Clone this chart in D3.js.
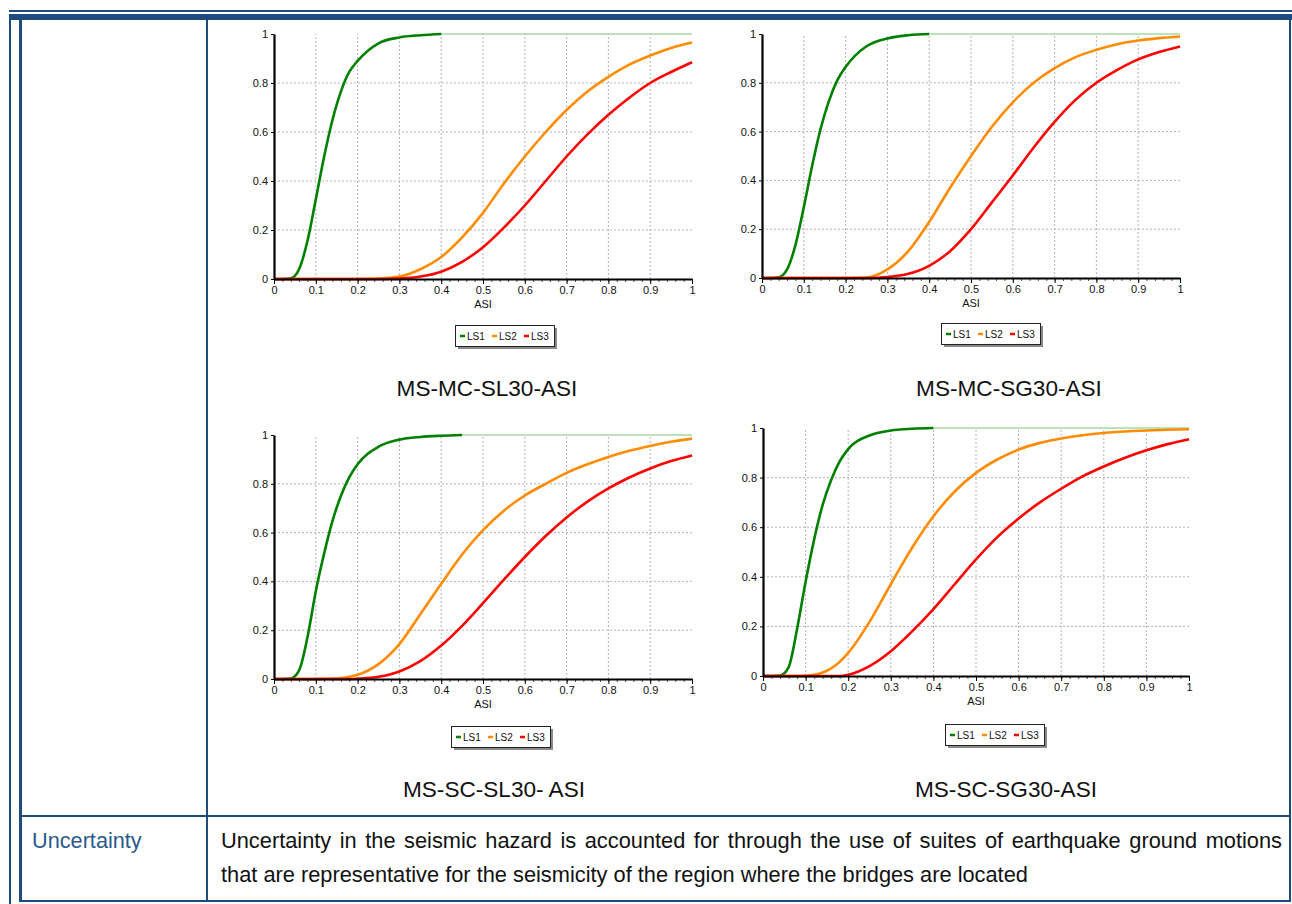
<!DOCTYPE html>
<html>
<head>
<meta charset="utf-8">
<script src="https://cdn.jsdelivr.net/npm/d3@7"></script>
<style>
  body { margin: 0; background: #fff; }
  svg { display: block; }
  text { font-family: "Liberation Sans", Arial, sans-serif; }
</style>
</head>
<body>
<svg id="page" width="1292" height="904"></svg>
<script>
// ASI sample points shared by all fragility curves
const asi = [0, 0.02, 0.04, 0.06, 0.08, 0.10, 0.12, 0.14, 0.16, 0.18, 0.20,
             0.25, 0.30, 0.35, 0.40, 0.45, 0.50, 0.55, 0.60, 0.65, 0.70,
             0.75, 0.80, 0.85, 0.90, 0.95, 1.00];

// Probability of exceedance per limit state (LS1, LS2, LS3)
const mcSl30Ls1 = [0, 0, 0.003, 0.04, 0.155, 0.325, 0.50, 0.65, 0.765, 0.845, 0.89, 0.962, 0.986, 0.995, 1, 1, 1, 1, 1, 1, 1, 1, 1, 1, 1, 1, 1];
const mcSl30Ls2 = [0, 0, 0, 0, 0, 0, 0, 0, 0, 0, 0, 0.002, 0.01, 0.04, 0.09, 0.17, 0.27, 0.39, 0.50, 0.60, 0.69, 0.765, 0.825, 0.875, 0.912, 0.943, 0.965];
const mcSl30Ls3 = [0, 0, 0, 0, 0, 0, 0, 0, 0, 0, 0, 0, 0.002, 0.01, 0.03, 0.07, 0.13, 0.21, 0.30, 0.40, 0.50, 0.59, 0.67, 0.74, 0.80, 0.845, 0.885];

const mcSg30Ls1 = [0, 0, 0.003, 0.035, 0.135, 0.29, 0.46, 0.61, 0.725, 0.81, 0.865, 0.95, 0.982, 0.995, 1, 1, 1, 1, 1, 1, 1, 1, 1, 1, 1, 1, 1];
const mcSg30Ls2 = [0, 0, 0, 0, 0, 0, 0, 0, 0, 0, 0, 0.002, 0.035, 0.11, 0.23, 0.37, 0.50, 0.62, 0.72, 0.80, 0.86, 0.905, 0.935, 0.958, 0.973, 0.983, 0.99];
const mcSg30Ls3 = [0, 0, 0, 0, 0, 0, 0, 0, 0, 0, 0, 0, 0.004, 0.017, 0.05, 0.11, 0.20, 0.31, 0.42, 0.535, 0.64, 0.73, 0.80, 0.853, 0.896, 0.926, 0.949];

const scSl30Ls1 = [0, 0, 0.002, 0.035, 0.17, 0.36, 0.515, 0.648, 0.75, 0.826, 0.88, 0.952, 0.981, 0.992, 0.997, 1, 1, 1, 1, 1, 1, 1, 1, 1, 1, 1, 1];
const scSl30Ls2 = [0, 0, 0, 0, 0, 0, 0.001, 0.002, 0.004, 0.009, 0.017, 0.061, 0.143, 0.265, 0.39, 0.51, 0.61, 0.69, 0.752, 0.80, 0.845, 0.88, 0.91, 0.935, 0.955, 0.972, 0.985];
const scSl30Ls3 = [0, 0, 0, 0, 0, 0, 0, 0, 0, 0, 0.0015, 0.009, 0.031, 0.073, 0.137, 0.218, 0.311, 0.407, 0.50, 0.586, 0.662, 0.727, 0.781, 0.826, 0.863, 0.893, 0.916];

const scSg30Ls1 = [0, 0, 0.002, 0.035, 0.19, 0.38, 0.55, 0.69, 0.79, 0.865, 0.915, 0.97, 0.99, 0.997, 1, 1, 1, 1, 1, 1, 1, 1, 1, 1, 1, 1, 1];
const scSg30Ls2 = [0, 0, 0, 0, 0, 0.0013, 0.005, 0.014, 0.031, 0.057, 0.093, 0.218, 0.37, 0.517, 0.644, 0.744, 0.819, 0.873, 0.913, 0.94, 0.958, 0.971, 0.98, 0.986, 0.99, 0.993, 0.995];
const scSg30Ls3 = [0, 0, 0, 0, 0, 0, 0, 0, 0, 0, 0.005, 0.04, 0.10, 0.18, 0.27, 0.37, 0.47, 0.56, 0.635, 0.70, 0.755, 0.805, 0.845, 0.88, 0.91, 0.935, 0.955];

// Axis ticks, legend and captions
const xTicks = [0, 0.1, 0.2, 0.3, 0.4, 0.5, 0.6, 0.7, 0.8, 0.9, 1];
const yTicks = [0, 0.2, 0.4, 0.6, 0.8, 1];
const limitStates = ["LS1", "LS2", "LS3"];
const lsColors = ["#008000", "#ff8c00", "#ff0000"];
const chartTitles = ["MS-MC-SL30-ASI", "MS-MC-SG30-ASI", "MS-SC-SL30- ASI", "MS-SC-SG30-ASI"];
const rowLabel = "Uncertainty";
const rowText = [
  "Uncertainty in the seismic hazard is accounted for through the use of suites of earthquake ground motions",
  "that are representative for the seismicity of the region where the bridges are located"
];

const svg = d3.select("#page");
const border = "#1f4a7e";

// ---- table frame ----
const frame = svg.append("g");
function rect(x, y, w, h) { frame.append("rect").attr("x", x).attr("y", y).attr("width", w).attr("height", h).attr("fill", border); }
rect(9, 10, 1283, 2);      // thin top rule
rect(9, 14, 1283, 6);      // thick top rule
rect(9, 14, 2, 890);       // outer left rule
rect(19, 20, 3, 882);      // inner left rule
rect(206, 20, 2, 882);     // column divider
rect(1289, 20, 2, 882);    // right rule
rect(22, 815, 1268, 2);    // row divider
rect(19, 900, 1272, 2);    // bottom rule

// ---- fragility charts ----
const layout = [
  { x0: 274, x1: 692, yTop: 34, yBot: 279, legX: 455, legY: 325, tX: 487, tY: 396 },
  { x0: 762, x1: 1180, yTop: 34, yBot: 278, legX: 941, legY: 323, tX: 1009, tY: 396 },
  { x0: 274, x1: 692, yTop: 435, yBot: 679, legX: 451, legY: 726, tX: 494, tY: 797 },
  { x0: 763, x1: 1189, yTop: 428, yBot: 676, legX: 945, legY: 724, tX: 1006, tY: 797 }
];
const seriesByChart = [
  [mcSl30Ls1, mcSl30Ls2, mcSl30Ls3],
  [mcSg30Ls1, mcSg30Ls2, mcSg30Ls3],
  [scSl30Ls1, scSl30Ls2, scSl30Ls3],
  [scSg30Ls1, scSg30Ls2, scSg30Ls3]
];

layout.forEach((L, ci) => {
  const g = svg.append("g");
  const x = d3.scaleLinear().domain([0, 1]).range([L.x0, L.x1]);
  const y = d3.scaleLinear().domain([0, 1]).range([L.yBot, L.yTop]);

  // dotted grid
  g.append("g").selectAll("line").data(xTicks.filter(v => v > 0 && v < 1)).join("line")
    .attr("x1", d => x(d)).attr("x2", d => x(d)).attr("y1", y(0)).attr("y2", y(1))
    .attr("stroke", "#b4b4b4").attr("stroke-dasharray", "2,2");
  g.append("g").selectAll("line").data(yTicks.filter(v => v > 0 && v < 1)).join("line")
    .attr("x1", x(0)).attr("x2", x(1)).attr("y1", d => y(d)).attr("y2", d => y(d))
    .attr("stroke", "#b4b4b4").attr("stroke-dasharray", "2,2");

  // curves: a curve that has reached 1 carries on as a thin line
  const line = d3.line().x(d => x(d[0])).y(d => y(d[1])).curve(d3.curveMonotoneX);
  seriesByChart[ci].forEach((vals, si) => {
    const pts = asi.map((a, i) => [a, vals[i]]);
    const full = pts.findIndex(p => p[1] >= 1);
    const thick = full > 0 ? pts.slice(0, full + 1) : pts;
    if (full > 0) {
      g.append("path").attr("d", line(pts.slice(full)))
        .attr("fill", "none").attr("stroke", "#7cc47c").attr("stroke-width", 1.2);
    }
    g.append("path").attr("d", line(thick))
      .attr("fill", "none").attr("stroke", lsColors[si]).attr("stroke-width", 2.6)
      .attr("stroke-linejoin", "round");
  });

  // axes
  const fmt = d3.format("~g");
  const xMinor = d3.range(0, 1.0001, 0.02);
  g.append("g").attr("transform", `translate(0,${L.yBot})`)
    .call(d3.axisBottom(x).tickValues(xMinor).tickSize(3).tickSizeOuter(0).tickFormat(""))
    .call(a => a.select(".domain").remove())
    .call(a => a.selectAll("line").attr("stroke", "#555"));
  g.append("g").attr("transform", `translate(0,${L.yBot})`)
    .call(d3.axisBottom(x).tickValues(xTicks).tickSize(5).tickSizeOuter(0).tickFormat(fmt).tickPadding(2))
    .call(a => a.select(".domain").attr("stroke", "#000").attr("stroke-width", 2.2))
    .call(a => a.selectAll("text").attr("font-size", 11).attr("fill", "#111")
      .attr("font-family", "Liberation Sans, Arial, sans-serif"));
  g.append("g").attr("transform", `translate(${L.x0},0)`)
    .call(d3.axisLeft(y).tickValues(yTicks).tickSize(3).tickSizeOuter(0).tickFormat(fmt).tickPadding(3))
    .call(a => a.select(".domain").attr("stroke", "#000").attr("stroke-width", 2.2))
    .call(a => a.selectAll("text").attr("font-size", 11).attr("fill", "#111")
      .attr("font-family", "Liberation Sans, Arial, sans-serif"));

  g.append("text").attr("x", x(0.5)).attr("y", L.yBot + 29).attr("text-anchor", "middle")
    .attr("font-size", 11).attr("fill", "#111").text("ASI");

  // legend with drop shadow
  const lg = g.append("g").attr("transform", `translate(${L.legX},${L.legY})`);
  lg.append("rect").attr("x", 3).attr("y", 3).attr("width", 99).attr("height", 21).attr("fill", "#8a8a8a");
  lg.append("rect").attr("x", 0.5).attr("y", 0.5).attr("width", 99).attr("height", 21)
    .attr("fill", "#fff").attr("stroke", "#222");
  limitStates.forEach((ls, i) => {
    const ox = 5 + i * 32;
    lg.append("line").attr("x1", ox).attr("x2", ox + 5).attr("y1", 11).attr("y2", 11)
      .attr("stroke", lsColors[i]).attr("stroke-width", 2.5);
    lg.append("text").attr("x", ox + 7).attr("y", 14.5).attr("font-size", 10).attr("fill", "#111").text(ls);
  });

  svg.append("text").attr("x", L.tX).attr("y", L.tY).attr("text-anchor", "middle")
    .attr("font-size", 22.6).attr("fill", "#111").text(chartTitles[ci]);
});

// ---- uncertainty row ----
svg.append("text").attr("x", 32).attr("y", 848).attr("font-size", 21.7).attr("fill", "#2a5a8c").text(rowLabel);
const t1 = svg.append("text").attr("x", 221).attr("y", 848).attr("font-size", 21.8).attr("fill", "#111").text(rowText[0]);
const natural = t1.node().getComputedTextLength();
const gaps = rowText[0].split(" ").length - 1;
t1.attr("word-spacing", Math.max(0, (1282 - 221 - natural) / gaps));
svg.append("text").attr("x", 221).attr("y", 882).attr("font-size", 21.8).attr("fill", "#111").text(rowText[1]);
</script>
</body>
</html>
